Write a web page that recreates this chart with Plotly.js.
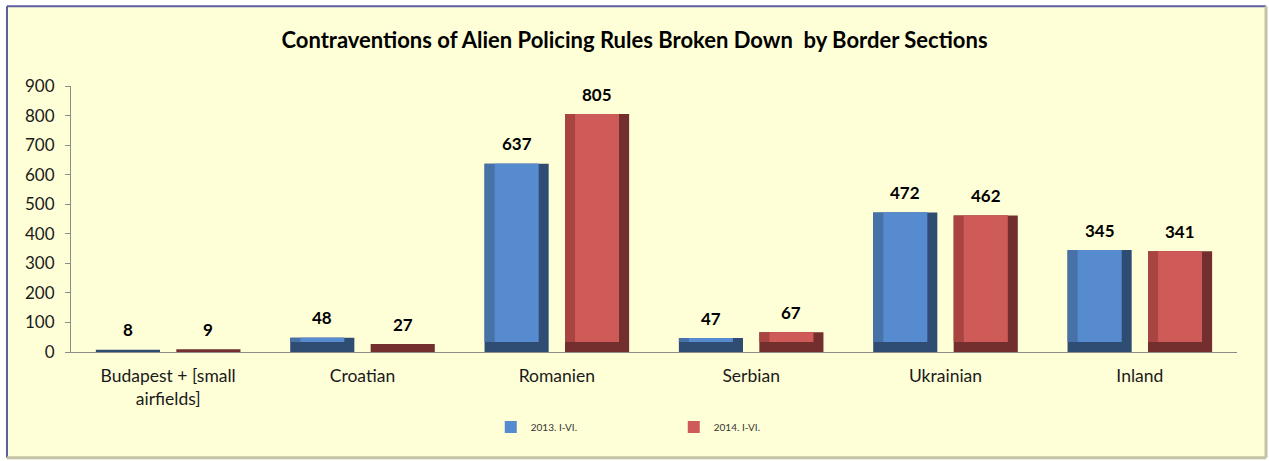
<!DOCTYPE html>
<html>
<head>
<meta charset="utf-8">
<script src="https://cdn.plot.ly/plotly-3.0.1.min.js"></script>
<style>html,body{margin:0;padding:0;background:#fff;}#chart{width:1269px;height:461px;}</style>
</head>
<body>
<div id="chart"></div>
<script>
// ---- data ----
const categories = ["Budapest + [small<br>airfields]", "Croatian", "Romanien", "Serbian", "Ukrainian", "Inland"];
const series2013 = [8, 48, 637, 47, 472, 345];
const series2014 = [9, 27, 805, 67, 462, 341];
const seriesNames = ["2013. I-VI.", "2014. I-VI."];
const yTicks = [0, 100, 200, 300, 400, 500, 600, 700, 800, 900];

// ---- styling ----
const FONT = "Lato, 'Open Sans', sans-serif";
const W = 0.33;            // bar width (category units)
const OFF = [-0.372, 0.042];
const BX = 0.052;          // bevel width (category units)
const BY = 34;             // bevel height (value units)
const palettes = [
  {dark: "#2F4D73", mid: "#4672A8", face: "#568BCF"},
  {dark: "#722F2E", mid: "#A84543", face: "#CE5B57"}
];

const traces = [];
const annotations = [];
[series2013, series2014].forEach((vals, s) => {
  const p = palettes[s], o = OFF[s];
  const idx = vals.map((_, i) => categories[i]);
  // full body (dark right / bottom bevel)
  traces.push({type: "bar", x: idx, y: vals, offset: o, width: W,
    marker: {color: p.dark, line: {width: 0}}, showlegend: false, hoverinfo: "skip"});
  // left bevel
  traces.push({type: "bar", x: idx, y: vals.map(v => Math.max(v - BY, 0)), base: vals.map(v => Math.min(v, BY)),
    offset: o, width: W - BX, marker: {color: p.mid, line: {width: 0}}, showlegend: false, hoverinfo: "skip"});
  // face
  traces.push({type: "bar", name: seriesNames[s], x: idx, y: vals.map(v => Math.max(v - BY, 0)), base: vals.map(v => Math.min(v, BY)),
    offset: o + BX, width: W - 2 * BX, marker: {color: p.face, line: {width: 0}},
    customdata: vals, hovertemplate: "%{x}: %{customdata}<extra>" + seriesNames[s] + "</extra>"});
  vals.forEach((v, i) => {
    annotations.push({x: i + o + W / 2, y: v, xref: "x", yref: "y", text: "<b>" + v + "</b>",
      showarrow: false, yanchor: "middle", yshift: 20, font: {family: FONT, size: 17, color: "#000"}});
  });
});

const layout = {
  width: 1269, height: 461,
  margin: {l: 71, r: 32, t: 86, b: 109},
  paper_bgcolor: "#FFFFFF",
  plot_bgcolor: "rgba(0,0,0,0)",
  barmode: "overlay",
  font: {family: FONT, size: 15, color: "#1a1a1a"},
  title: {text: "<b>Contraventions of Alien Policing Rules Broken Down  by Border Sections</b>",
    x: 0.5, xref: "container", xanchor: "center", y: 0.912, yref: "container", yanchor: "middle",
    font: {family: FONT, size: 22, color: "#000"}},
  xaxis: {type: "category", showline: true, linecolor: "#8C8C8C", linewidth: 1,
    ticks: "", showgrid: false, zeroline: false, tickfont: {family: FONT, size: 17.5, color: "#1a1a1a"},
    ticklabelstandoff: 8, range: [-0.5, 5.5], fixedrange: true},
  yaxis: {range: [0, 900], tickvals: yTicks, ticktext: yTicks.map(String), showline: true, linecolor: "#8C8C8C", linewidth: 1,
    ticks: "outside", ticklen: 5, tickcolor: "#8C8C8C", showgrid: false, zeroline: false,
    tickfont: {family: FONT, size: 17, color: "#1a1a1a"}, ticklabelstandoff: 7, fixedrange: true},
  legend: {orientation: "h", x: 0.36, xanchor: "left", y: -0.282, yanchor: "middle",
    font: {family: FONT, size: 10, color: "#333"}, entrywidth: 138, entrywidthmode: "pixels",
    bgcolor: "rgba(0,0,0,0)", itemclick: false, itemdoubleclick: false},
  annotations: annotations,
  shapes: [
    {type: "rect", xref: "paper", yref: "paper", x0: -0.0549, x1: 1.0249, y0: -0.398, y1: 1.30,
      fillcolor: "#FFFFD7", line: {width: 0}, layer: "below"},
    {type: "line", xref: "paper", yref: "paper", x0: -0.0549, x1: 1.0249, y0: 1.30, y1: 1.30,
      line: {color: "#5C5CA0", width: 2}, layer: "below"},
    {type: "line", xref: "paper", yref: "paper", x0: -0.0549, x1: -0.0549, y0: -0.398, y1: 1.30,
      line: {color: "#5C5CA0", width: 2}, layer: "below"},
    {type: "line", xref: "paper", yref: "paper", x0: 1.0249, x1: 1.0249, y0: -0.398, y1: 1.30,
      line: {color: "#C4C4A4", width: 3}, layer: "below"},
    {type: "line", xref: "paper", yref: "paper", x0: -0.0549, x1: 1.0249, y0: -0.398, y1: -0.398,
      line: {color: "#C4C4A4", width: 3}, layer: "below"}
  ]
};

Plotly.newPlot("chart", traces, layout, {displayModeBar: false});
</script>
</body>
</html>
